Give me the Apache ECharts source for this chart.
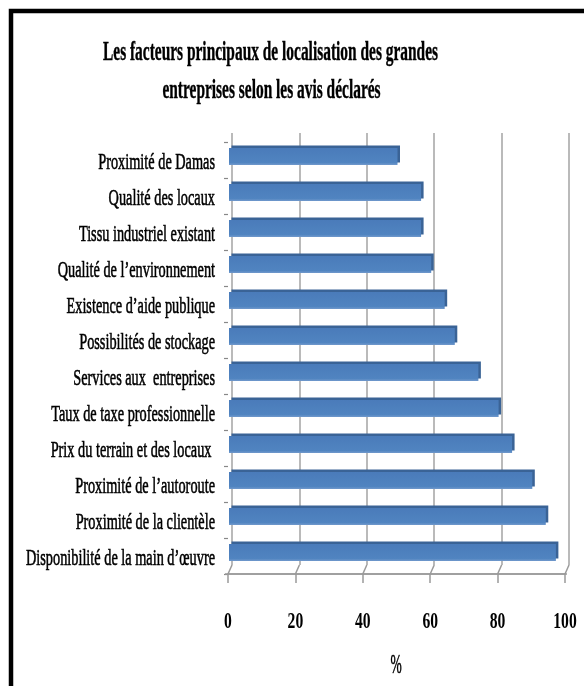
<!DOCTYPE html>
<html>
<head>
<meta charset="utf-8">
<script src="https://cdn.jsdelivr.net/npm/echarts@6/dist/echarts.min.js"></script>
<style>
html,body{margin:0;padding:0;background:#fff;}
#chart{width:584px;height:686px;}
</style>
</head>
<body>
<div id="chart"></div>
<script>
const titleLines = ['Les facteurs principaux de localisation des grandes', 'entreprises selon les avis déclarés'];
const axisName = '%';
const categories = [
  'Proximité de Damas',
  'Qualité des locaux',
  'Tissu industriel existant',
  'Qualité de l\u2019environnement',
  'Existence d\u2019aide publique',
  'Possibilités de stockage',
  'Services aux  entreprises',
  'Taux de taxe professionnelle',
  'Prix du terrain et des locaux ',
  'Proximité de l\u2019autoroute',
  'Proximité de la clientèle',
  'Disponibilité de la main d\u2019\u0153uvre'
];
const values = [50, 57, 57, 60, 64, 67, 74, 80, 84, 90, 94, 97];
const ticks = [0, 20, 40, 60, 80, 100];

const SERIF = '"Liberation Serif", "Times New Roman", serif';
const mctx = document.createElement('canvas').getContext('2d');
mctx.font = 'bold 28px ' + SERIF;
const titleScale = 335 / mctx.measureText(titleLines[0]).width;
mctx.font = '24px ' + SERIF;
const labelScale = 189 / mctx.measureText(categories[categories.length - 1]).width;

const chart = echarts.init(document.getElementById('chart'), null, {renderer: 'canvas'});

const W = 337, H = 432;
function vAxis(i, extra) {
  return Object.assign({
    type: 'value', gridIndex: i, min: 0, max: 100, interval: 20,
    axisLine: {show: false}, axisTick: {show: false}, axisLabel: {show: false}, splitLine: {show: false}
  }, extra || {});
}
function cAxis(i, extra) {
  return Object.assign({
    type: 'category', gridIndex: i, data: categories, inverse: true,
    axisLine: {show: false}, axisTick: {show: false}, axisLabel: {show: false}, splitLine: {show: false}
  }, extra || {});
}

const option = {
  animation: false,
  backgroundColor: '#fff',
  grid: [
    {left: 232, top: 133, width: W, height: H},    // back wall
    {left: 228, top: 142, width: W, height: H},    // front plane
    {left: 231.5, top: 136, width: W, height: H},  // bar depth faces
    {left: 229, top: 138.5, width: W, height: H}   // bar front faces
  ],
  xAxis: [
    vAxis(0, {splitLine: {show: true, lineStyle: {color: '#a3a3a3', width: 1.5}}}),
    vAxis(1, {axisLine: {show: true, onZero: false, lineStyle: {color: '#9a9a9a', width: 1.5}},
              axisTick: {show: true, length: 9, lineStyle: {color: '#9a9a9a', width: 1.5}}}),
    vAxis(2),
    vAxis(3)
  ],
  yAxis: [
    cAxis(0),
    cAxis(1, {axisTick: {show: true, length: 4, lineStyle: {color: '#888', width: 1.2}}}),
    cAxis(2),
    cAxis(3)
  ],
  graphic: [
    {type: 'rect', shape: {x: 11, y: 11, width: 640, height: 720},
     style: {fill: 'none', stroke: '#000', lineWidth: 4.5}, z: 10},
    {type: 'text', x: 270.5, y: 53, scaleX: titleScale,
     style: {text: titleLines[0], font: 'bold 28px ' + SERIF, fill: '#000',
             stroke: '#000', lineWidth: 0.4,
             align: 'center', verticalAlign: 'middle'}},
    {type: 'text', x: 271.5, y: 91, scaleX: titleScale,
     style: {text: titleLines[1], font: 'bold 28px ' + SERIF, fill: '#000',
             stroke: '#000', lineWidth: 0.4,
             align: 'center', verticalAlign: 'middle'}},
    {type: 'text', x: 396, y: 666, scaleX: 0.5,
     style: {text: axisName, font: '27px ' + SERIF, fill: '#000',
             stroke: '#000', lineWidth: 0.5,
             align: 'center', verticalAlign: 'middle'}}
  ],
  series: [
    {
      type: 'bar', xAxisIndex: 2, yAxisIndex: 2, data: values, barWidth: 17, silent: true, z: 2,
      itemStyle: {color: '#3A6396'}
    },
    {
      type: 'bar', xAxisIndex: 3, yAxisIndex: 3, data: values, barWidth: 17, silent: true, z: 3,
      itemStyle: {color: new echarts.graphic.LinearGradient(0, 0, 0, 1, [
        {offset: 0, color: '#4A7BBA'}, {offset: 0.85, color: '#5084C0'}, {offset: 1, color: '#7199CC'}
      ])}
    },
    {
      type: 'custom', xAxisIndex: 1, yAxisIndex: 1, silent: true, z: 5,
      data: categories.map((c, i) => [0, i]),
      renderItem: function (params, api) {
        const p = api.coord([0, api.value(1)]);
        return {
          type: 'text', x: p[0] - 13, y: p[1] + 3, scaleX: labelScale,
          style: {text: categories[params.dataIndex], font: '24px ' + SERIF, fill: '#000',
                  stroke: '#000', lineWidth: 0.6,
                  align: 'right', verticalAlign: 'middle'}
        };
      }
    },
    {
      type: 'custom', xAxisIndex: 1, yAxisIndex: 1, silent: true, z: 5,
      data: ticks.map(t => [t, 0]),
      renderItem: function (params, api) {
        const p = api.coord([api.value(0), 0]);
        const cs = params.coordSys;
        const bottom = cs.y + cs.height;
        const children = [
          {type: 'line', shape: {x1: p[0], y1: bottom, x2: p[0] + 4, y2: bottom - 9},
           style: {stroke: '#9a9a9a', lineWidth: 1.5}},
          {type: 'text', x: p[0], y: bottom + 48.5, scaleX: 0.68,
           style: {text: String(ticks[params.dataIndex]), font: 'bold 23px ' + SERIF, fill: '#000',
                   align: 'center', verticalAlign: 'middle'}}
        ];
        if (params.dataIndex === 0) {
          children.push({type: 'line', shape: {x1: cs.x - 3, y1: bottom, x2: cs.x + cs.width + 2, y2: bottom},
                         style: {stroke: '#9a9a9a', lineWidth: 1.5}});
        }
        return {type: 'group', children: children};
      }
    }
  ]
};
chart.setOption(option);
</script>
</body>
</html>
